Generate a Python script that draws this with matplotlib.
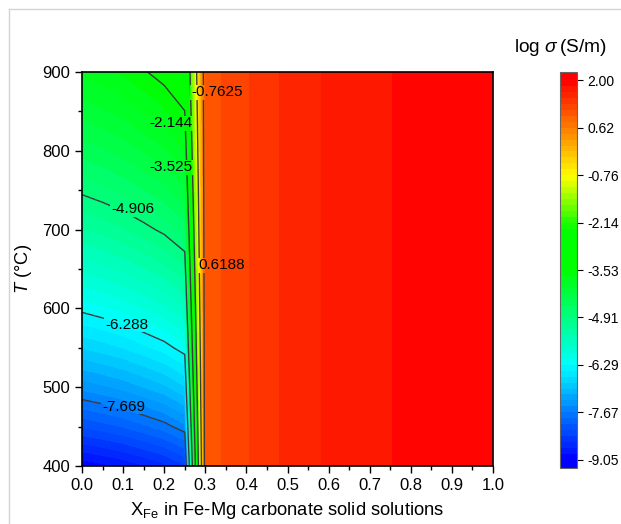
import numpy as np
import matplotlib
matplotlib.use("Agg")
import matplotlib.pyplot as plt
from matplotlib.colors import LinearSegmentedColormap
from matplotlib.path import Path
from matplotlib.transforms import IdentityTransform
from matplotlib.lines import Line2D

plt.rcParams['font.family'] = ['Liberation Sans', 'DejaVu Sans']
plt.rcParams['mathtext.fontset'] = 'custom'
plt.rcParams['mathtext.rm'] = 'Liberation Sans'
plt.rcParams['mathtext.it'] = 'Liberation Sans:italic'
plt.rcParams['mathtext.bf'] = 'Liberation Sans:bold'

# ---------------- data ----------------
temperatures = [400, 450, 500, 550, 600, 650, 700, 750, 800, 850, 900]   # °C
x_low = [0.0, 0.05, 0.10, 0.15, 0.20, 0.25]                               # X_Fe (T dependent part)
log_sigma_low = [
    [-9.01, -8.93, -8.84, -8.72, -8.59, -8.39],
    [-8.17, -8.09, -8.00, -7.88, -7.75, -7.55],
    [-7.44, -7.36, -7.27, -7.15, -7.02, -6.82],
    [-6.80, -6.72, -6.63, -6.51, -6.38, -6.18],
    [-6.23, -6.15, -6.06, -5.94, -5.81, -5.61],
    [-5.73, -5.65, -5.56, -5.44, -5.31, -5.11],
    [-5.27, -5.19, -5.10, -4.98, -4.85, -4.65],
    [-4.86, -4.78, -4.69, -4.57, -4.44, -4.24],
    [-4.49, -4.41, -4.32, -4.20, -4.07, -3.87],
    [-4.15, -4.07, -3.98, -3.86, -3.73, -3.53],
    [-3.84, -3.76, -3.67, -3.55, -3.42, -3.22],
]
x_high = [0.30, 0.35, 0.40, 0.45, 0.50, 0.55, 0.60, 0.65, 0.70, 0.75,
          0.80, 0.85, 0.90, 0.95, 1.00]                                    # X_Fe (T independent part)
log_sigma_high = [1.02, 1.17, 1.29, 1.42, 1.53, 1.61, 1.68, 1.73, 1.78, 1.825,
                  1.86, 1.89, 1.92, 1.94, 1.96]

z_min, z_max = -9.05, 2.00
major_levels = [-9.05, -7.66875, -6.2875, -4.90625, -3.525, -2.14375, -0.7625, 0.61875, 2.00]
colorbar_tick_labels = ['-9.05', '-7.67', '-6.29', '-4.91', '-3.53', '-2.14', '-0.76', '0.62', '2.00']
line_levels = major_levels[1:-1]
line_label_text = ['-7.669', '-6.288', '-4.906', '-3.525', '-2.144', '-0.7625', '0.6188']
line_label_pos = [(0.102, 475), (0.110, 579), (0.124, 726), (0.217, 779),
                  (0.217, 835), (0.329, 874), (0.340, 655)]

# ---------------- grid ----------------
x_all = np.array(x_low + x_high)
T_all = np.array(temperatures, dtype=float)
Z = np.hstack([np.array(log_sigma_low),
               np.tile(np.array(log_sigma_high), (len(temperatures), 1))])
X, Y = np.meshgrid(x_all, T_all)

cmap = LinearSegmentedColormap.from_list('origin_rainbow', [
    (0.0, '#0000ff'), (0.25, '#00ffff'), (0.5, '#00ff00'), (0.61, '#00ff00'),
    (0.75, '#ffff00'), (1.0, '#ff0000')])

fill_levels = np.linspace(z_min, z_max, 65)

fig = plt.figure(figsize=(6.21, 5.24), dpi=100)
ax = fig.add_axes([82 / 621, 1 - 466 / 524, 411 / 621, 394 / 524])

cf = ax.contourf(X, Y, Z, levels=fill_levels, cmap=cmap, extend='both')
cs = ax.contour(X, Y, Z, levels=line_levels, colors='#3c3c3c', linewidths=1.0,
                linestyles='solid', negative_linestyles='solid')

texts = []
for s, (px, py) in zip(line_label_text, line_label_pos):
    texts.append(ax.text(px, py, s, ha='center', va='center', fontsize=11,
                         color='black', zorder=5))

ax.set_xlim(0, 1)
ax.set_ylim(400, 900)
ax.set_xticks(np.arange(0, 1.01, 0.1))
ax.set_xticks(np.arange(0.05, 1.0, 0.1), minor=True)
ax.set_yticks(np.arange(400, 901, 100))
ax.set_yticks(np.arange(450, 900, 100), minor=True)
ax.xaxis.set_major_formatter(matplotlib.ticker.FormatStrFormatter('%.1f'))
ax.tick_params(which='major', direction='out', length=5, width=1.0, labelsize=12,
               top=False, right=False)
ax.tick_params(which='minor', direction='out', length=3, width=1.0, top=False, right=False)
for sp in ax.spines.values():
    sp.set_linewidth(1.2)
    sp.set_color('black')

ax.set_xlabel(r'X$_{\mathrm{Fe}}$ in Fe-Mg carbonate solid solutions', fontsize=13.2, labelpad=5)
ax.set_ylabel(r'$T$ (°C)', fontsize=13.2, labelpad=6)

# colour bar
cax = fig.add_axes([560 / 621, 1 - 468 / 524, 17 / 621, 396 / 524])
cb = fig.colorbar(cf, cax=cax, ticks=major_levels, extendrect=True, extendfrac=0.022,
                  drawedges=False)
cb.ax.set_yticklabels(colorbar_tick_labels)
cb.ax.tick_params(direction='out', length=4, width=0.8, labelsize=10, colors='black')
cb.ax.minorticks_off()
cb.outline.set_edgecolor('#666666')
cb.outline.set_linewidth(0.8)
fig.text(560 / 621, 1 - 48 / 524, r'log $\sigma\,$(S/m)', ha='center', va='center', fontsize=13.8)

# light frame of the original image
fig.add_artist(Line2D([9 / 621, 1], [1 - 9 / 524, 1 - 9 / 524], color='#d4d4d4', lw=1.0))
fig.add_artist(Line2D([9 / 621, 9 / 621], [0, 1 - 9 / 524], color='#d4d4d4', lw=1.0))

# break contour lines under the labels
fig.canvas.draw()
renderer = fig.canvas.get_renderer()
ab = ax.get_window_extent(renderer)
verts, codes = [], []
x0, y0, x1, y1 = ab.x0 - 20, ab.y0 - 20, ab.x1 + 20, ab.y1 + 20
verts += [(x0, y0), (x1, y0), (x1, y1), (x0, y1), (x0, y0)]
codes += [Path.MOVETO, Path.LINETO, Path.LINETO, Path.LINETO, Path.CLOSEPOLY]
for t in texts:
    bb = t.get_window_extent(renderer)
    a0, b0, a1, b1 = bb.x0 - 1.5, bb.y0 - 0.5, bb.x1 + 1.5, bb.y1 + 0.5
    verts += [(a0, b0), (a0, b1), (a1, b1), (a1, b0), (a0, b0)]
    codes += [Path.MOVETO, Path.LINETO, Path.LINETO, Path.LINETO, Path.CLOSEPOLY]
clip = Path(verts, codes)
cs.set_clip_path(clip, IdentityTransform())

fig.savefig('out.png', dpi=100)
